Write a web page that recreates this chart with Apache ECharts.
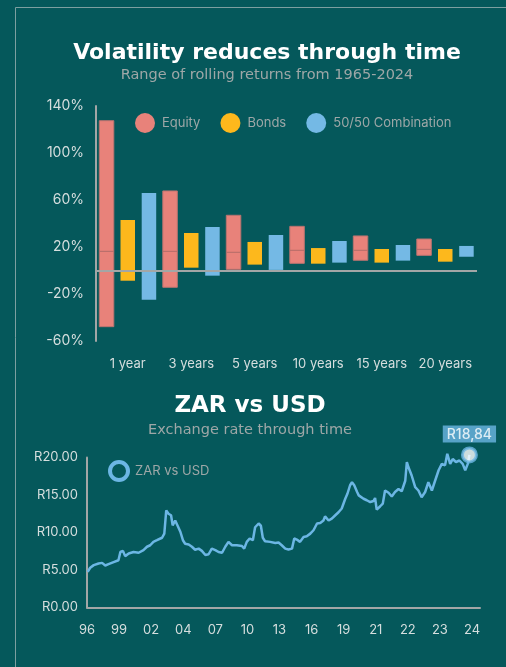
<!DOCTYPE html>
<html>
<head>
<meta charset="utf-8">
<script src="https://cdn.jsdelivr.net/npm/echarts@6/dist/echarts.min.js"></script>
<style>
  html, body { margin: 0; padding: 0; background: #05585b; }
  #chart { width: 506px; height: 667px; }
</style>
</head>
<body>
<div id="chart"></div>
<script>
// rolling return ranges (%)
const periods = ["1 year", "3 years", "5 years", "10 years", "15 years", "20 years"];
const equityHigh = [127.5, 67.7, 47, 37.6, 29.4, 26.8];
const equityLow = [-47.8, -14.3, 1, 6.1, 8.7, 12.9];
const equityMid = [16.3, 16.3, 15.5, 17.2, 17.2, 18];
const bondsHigh = [43, 31.9, 24.3, 19.1, 18.3, 18.3];
const bondsLow = [-8.7, 2.4, 5, 5.8, 6.7, 7.5];
const comboHigh = [66, 37, 30.2, 25.1, 21.7, 20.9];
const comboLow = [-24.8, -4.4, 0.5, 6.7, 8.4, 11.7];
const returnTicks = [-60, -20, 20, 60, 100, 140];

// ZAR/USD, x in tick-label steps
const yearTicks = ["96", "99", "02", "04", "07", "10", "13", "16", "19", "21", "22", "23", "24"];
const zarData = [
  [0.02, 4.76], [0.10, 5.3], [0.21, 5.65], [0.36, 5.87], [0.47, 5.95], [0.57, 5.6], [0.67, 5.78],
  [0.83, 6.05], [0.98, 6.3], [1.04, 7.4], [1.12, 7.55], [1.19, 6.85], [1.30, 7.2], [1.45, 7.4],
  [1.61, 7.3], [1.76, 7.65], [1.87, 8.1], [1.97, 8.3], [2.07, 8.75], [2.18, 8.97], [2.34, 9.3],
  [2.41, 9.85], [2.47, 12.95], [2.54, 12.5], [2.62, 12.3], [2.67, 10.96], [2.75, 11.6], [2.80, 11.4],
  [2.91, 10.1], [2.99, 8.97], [3.06, 8.5], [3.17, 8.4], [3.27, 8.1], [3.37, 7.7], [3.48, 7.85],
  [3.58, 7.55], [3.69, 7.0], [3.79, 7.1], [3.89, 7.85], [4.00, 7.65], [4.10, 7.4], [4.21, 7.3],
  [4.31, 8.1], [4.41, 8.75], [4.52, 8.3], [4.67, 8.3], [4.83, 8.2], [4.90, 7.85], [4.98, 8.75],
  [5.07, 9.2], [5.17, 8.97], [5.24, 10.7], [5.35, 11.2], [5.42, 10.9], [5.48, 9.3], [5.55, 8.84],
  [5.61, 8.75], [5.71, 8.75], [5.87, 8.6], [5.97, 8.66], [6.07, 8.3], [6.18, 7.85], [6.28, 7.73],
  [6.39, 7.85], [6.46, 9.2], [6.54, 9.06], [6.64, 8.75], [6.75, 9.4], [6.85, 9.5], [6.96, 9.85],
  [7.06, 10.3], [7.17, 11.2], [7.27, 11.27], [7.37, 11.6], [7.42, 12.15], [7.53, 11.6], [7.63, 11.85],
  [7.74, 12.3], [7.84, 12.7], [7.94, 13.2], [8.05, 14.5], [8.12, 15.2], [8.20, 16.3], [8.26, 16.7],
  [8.33, 16.3], [8.42, 15.4], [8.47, 14.95], [8.52, 14.7], [8.62, 14.5], [8.72, 14.3], [8.83, 14.06],
  [8.93, 14.2], [8.98, 14.6], [9.03, 13.05], [9.14, 13.5], [9.22, 13.85], [9.29, 15.6], [9.40, 15.3],
  [9.50, 14.8], [9.60, 15.4], [9.71, 15.8], [9.81, 15.5], [9.92, 16.9], [9.97, 19.4], [10.02, 18.7],
  [10.12, 17.6], [10.23, 16.05], [10.33, 15.6], [10.43, 14.7], [10.54, 15.4], [10.64, 16.7],
  [10.75, 15.6], [10.85, 16.9], [10.96, 18.3], [11.06, 19.15], [11.16, 18.95], [11.23, 20.5],
  [11.32, 19.15], [11.40, 19.8], [11.50, 19.4], [11.61, 19.6], [11.71, 19.15], [11.79, 18.3],
  [11.87, 19.15], [11.92, 20.35]
];
const endLabel = "R18,84";

const BG = "#05585b";
const AXIS = "#a3a6a6";
const LABEL = "#d6dede";
const MUTED = "#9ea7a7";
const LINE = "#6cb6e4";
const FONT = "Inter";
const HEAD = "DejaVu Sans";

const chart = echarts.init(document.getElementById("chart"), null, { renderer: "canvas" });

// floating range bar, slot = position inside the category band
function rangeBar(slot, fill, stroke, withMid) {
  return function (params, api) {
    const cat = api.value(0);
    const hi = api.coord([cat, api.value(2)]);
    const lo = api.coord([cat, api.value(1)]);
    const band = api.size([1, 0])[0];
    const w = band * 14.5 / 63.5;
    const cx = hi[0] + (slot - 1) * band * 21.2 / 63.5;
    const children = [{
      type: "rect",
      shape: { x: cx - w / 2, y: hi[1], width: w, height: lo[1] - hi[1] },
      style: { fill: fill, stroke: stroke, lineWidth: stroke ? 1 : 0 }
    }];
    if (withMid) {
      const m = api.coord([cat, api.value(3)]);
      children.push({
        type: "line",
        shape: { x1: cx - w / 2, y1: m[1], x2: cx + w / 2, y2: m[1] },
        style: { stroke: "#b36c68", lineWidth: 1 }
      });
    }
    return { type: "group", children: children };
  };
}

chart.setOption({
  backgroundColor: BG,
  animation: false,
  textStyle: { fontFamily: FONT },
  graphic: [{
    type: "rect",
    shape: { x: 15.5, y: 7.5, width: 600, height: 700 },
    style: { fill: "none", stroke: "#7d9fa0", lineWidth: 1 },
    silent: true
  }],
  title: [
    {
      text: "Volatility reduces through time",
      subtext: "Range of rolling returns from 1965-2024",
      left: 262, top: 37, textAlign: "center", itemGap: 4,
      textStyle: { color: "#fff", fontSize: 22, fontWeight: "bold", fontFamily: HEAD },
      subtextStyle: { color: MUTED, fontSize: 14.5, fontFamily: HEAD }
    },
    {
      text: "ZAR vs USD",
      subtext: "Exchange rate through time",
      left: 245, top: 390, textAlign: "center", itemGap: 5,
      textStyle: { color: "#fff", fontSize: 23, fontWeight: "bold", fontFamily: HEAD },
      subtextStyle: { color: MUTED, fontSize: 14.5, fontFamily: HEAD }
    }
  ],
  legend: [
    {
      left: 130, top: 108, itemWidth: 20, itemHeight: 20, itemGap: 20,
      icon: "circle",
      data: ["Equity", "Bonds", "50/50 Combination"],
      textStyle: { color: MUTED, fontSize: 13, fontFamily: FONT, padding: [0, 0, 0, 2] }
    },
    {
      left: 103, top: 455, itemWidth: 18, itemHeight: 18,
      data: [{
        name: "ZAR vs USD", icon: "circle",
        itemStyle: { color: BG, borderColor: LINE, borderWidth: 4 }
      }],
      textStyle: { color: MUTED, fontSize: 13, fontFamily: FONT, padding: [0, 0, 0, 2] }
    }
  ],
  grid: [
    { left: 96, right: 29, top: 106, height: 235 },
    { left: 87, right: 26, top: 457.5, bottom: 59.5 }
  ],
  xAxis: [
    {
      type: "category", gridIndex: 0, data: periods,
      axisLine: { show: false }, axisTick: { show: false },
      axisLabel: { color: LABEL, fontSize: 13, margin: 17, interval: 0, fontFamily: FONT }
    },
    {
      type: "value", gridIndex: 1, min: 0, max: 12.25, interval: 1,
      splitLine: { show: false }, axisTick: { show: false },
      axisLine: { show: true, lineStyle: { color: AXIS, width: 2 } },
      axisLabel: {
        color: LABEL, fontSize: 13, margin: 16, fontFamily: FONT,
        showMaxLabel: false,
        formatter: (v) => (Number.isInteger(v) && yearTicks[v] !== undefined ? yearTicks[v] : "")
      }
    }
  ],
  yAxis: [
    {
      type: "value", gridIndex: 0, min: -60, max: 140, interval: 20,
      splitLine: { show: false }, axisTick: { show: false },
      axisLine: { show: true, lineStyle: { color: AXIS, width: 2 } },
      axisLabel: {
        color: LABEL, fontSize: 14, margin: 12, fontFamily: FONT,
        formatter: (v) => (returnTicks.includes(v) ? v + "%" : "")
      }
    },
    {
      type: "value", gridIndex: 1, min: 0, max: 20, interval: 5,
      splitLine: { show: false }, axisTick: { show: false },
      axisLine: { show: true, lineStyle: { color: AXIS, width: 2 } },
      axisLabel: {
        color: LABEL, fontSize: 13, margin: 9, fontFamily: FONT,
        formatter: (v) => "R" + v.toFixed(2)
      }
    }
  ],
  series: [
    {
      name: "Equity", type: "custom", xAxisIndex: 0, yAxisIndex: 0,
      itemStyle: { color: "#e8827a" },
      renderItem: rangeBar(0, "#e8827a", "#b97370", true),
      encode: { x: 0, y: [1, 2] },
      data: periods.map((p, i) => [i, equityLow[i], equityHigh[i], equityMid[i]])
    },
    {
      name: "Bonds", type: "custom", xAxisIndex: 0, yAxisIndex: 0,
      itemStyle: { color: "#fdb81c" },
      renderItem: rangeBar(1, "#fdb81c", null, false),
      encode: { x: 0, y: [1, 2] },
      data: periods.map((p, i) => [i, bondsLow[i], bondsHigh[i]])
    },
    {
      name: "50/50 Combination", type: "custom", xAxisIndex: 0, yAxisIndex: 0,
      itemStyle: { color: "#74b9e5" },
      renderItem: rangeBar(2, "#74b9e5", null, false),
      encode: { x: 0, y: [1, 2] },
      data: periods.map((p, i) => [i, comboLow[i], comboHigh[i]]),
      markLine: {
        silent: true, symbol: ["none", "none"],
        label: { show: false },
        lineStyle: { color: AXIS, width: 2, type: "solid" },
        data: [{ yAxis: 0 }]
      }
    },
    {
      name: "ZAR vs USD", type: "line", xAxisIndex: 1, yAxisIndex: 1,
      showSymbol: false, clip: false,
      lineStyle: { color: LINE, width: 2.5 },
      itemStyle: { color: LINE },
      data: zarData
    },
    {
      name: "latest", type: "scatter", xAxisIndex: 1, yAxisIndex: 1,
      clip: false, symbol: "circle", symbolSize: 14, z: 5,
      itemStyle: { color: "#fff", borderColor: LINE, borderWidth: 3 },
      label: {
        show: true, position: "top", distance: 4,
        formatter: endLabel,
        color: "#fff", fontSize: 14, fontWeight: 500, fontFamily: FONT,
        backgroundColor: LINE, padding: [2, 4, 1, 4]
      },
      data: [zarData[zarData.length - 1]]
    }
  ]
});
</script>
</body>
</html>
